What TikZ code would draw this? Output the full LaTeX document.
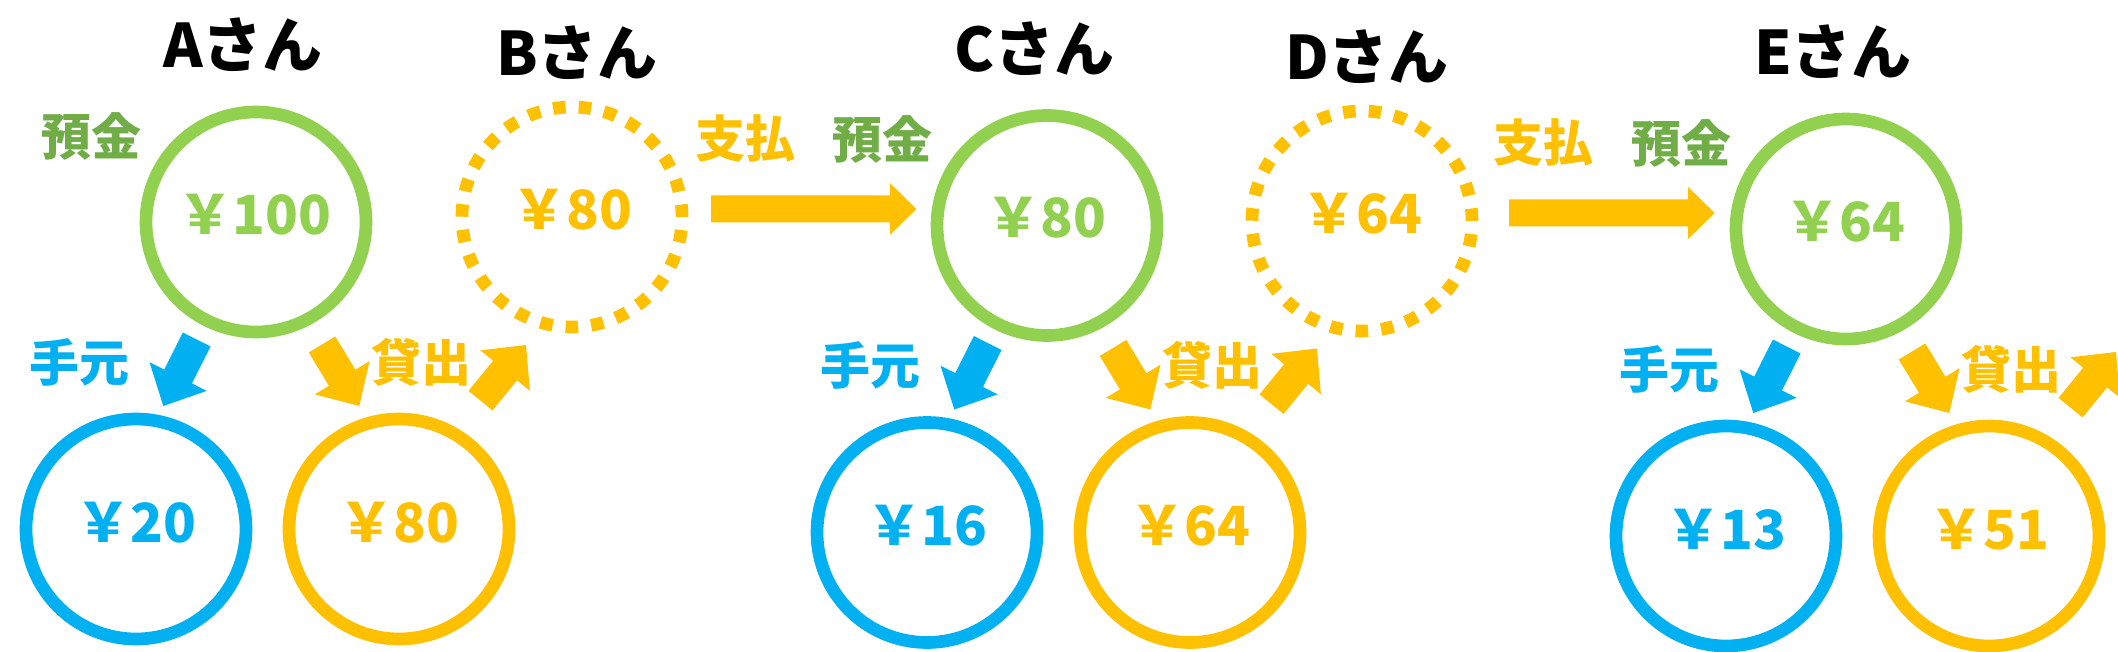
\documentclass[tikz,border=0pt]{standalone}
\usepackage{fontspec}
\newfontfamily\jp{Noto Sans CJK JP}
\usetikzlibrary{calc}
\definecolor{cgreen}{HTML}{92D050}
\definecolor{dgreen}{HTML}{70AD47}
\definecolor{cblue}{HTML}{00B0F0}
\definecolor{corange}{HTML}{FFC000}
\tikzset{
  ring/.style={circle, draw=#1, line width=12.7pt, minimum size=220pt, inner sep=0pt},
  dotring/.style={circle, draw=corange, line width=12.7pt, minimum size=220pt, inner sep=0pt, dash pattern=on 12.5pt off 13.1pt},
  amount/.style={text=#1, inner sep=0pt, font=\jp\bfseries\fontsize{54}{60}\selectfont},
  person/.style={text=black, inner sep=0pt, font=\jp\bfseries\fontsize{60}{66}\selectfont},
  tag/.style={text=#1, inner sep=0pt, font=\jp\bfseries\fontsize{50}{56}\selectfont},
}
% #1 tail, #2 tip, #3 half shaft, #4 half head, #5 head length, #6 colour
\newcommand\blockarrow[6]{%
  \path ($(#2)!#5!(#1)$) coordinate (ba-h);
  \fill[#6] ($(#1)!#3!90:(#2)$) -- ($(ba-h)!#3!90:(#2)$) -- ($(ba-h)!#4!90:(#2)$) -- (#2)
    -- ($(ba-h)!#4!-90:(#2)$) -- ($(ba-h)!#3!-90:(#2)$) -- ($(#1)!#3!-90:(#2)$) -- cycle;}
% #1 prefix, #2 dx, #3 dy, #4 deposit, #5 hand, #6 loan, #7 person
\newcommand\grp[7]{%
  \begin{scope}[shift={(#2,#3)}]
    \node[person] (#1name) at (243,44.7) {#7さん};
    \node[ring=cgreen] (#1dep) at (256,222) {};
    \node[amount=cgreen] (#1dept) at (255,214.5) {￥#4};
    \node[tag=dgreen] (#1yk) at (91,136) {預金};
    \node[ring=cblue] (#1hand) at (136,529) {};
    \node[amount=cblue] (#1handt) at (136.4,522.5) {￥#5};
    \node[ring=corange] (#1loan) at (399,529) {};
    \node[amount=corange] (#1loant) at (399,522.5) {￥#6};
    \node[tag=cblue] (#1tm) at (79,362) {手元};
    \node[tag=corange] (#1ks) at (421,362) {貸出};
    \coordinate (#1a1s) at (196.7,339.5); \coordinate (#1a1e) at (163.3,406);
    \coordinate (#1a2s) at (322,344.5);   \coordinate (#1a2e) at (359.3,406);
    \coordinate (#1a3s) at (480.5,400.7); \coordinate (#1a3e) at (526,345);
  \end{scope}
  \blockarrow{#1a1s}{#1a1e}{15.5pt}{32pt}{33pt}{cblue}
  \blockarrow{#1a2s}{#1a2e}{15.5pt}{32pt}{33pt}{corange}
  \blockarrow{#1a3s}{#1a3e}{15.5pt}{32pt}{33pt}{corange}
}
\begin{document}
\begin{tikzpicture}[x=1pt,y=-1pt]
  \useasboundingbox (0,0) rectangle (2118,652);
  \grp{A}{0}{0}{100}{20}{80}{A}
  \grp{C}{791}{3.5}{80}{16}{64}{C}
  \grp{E}{1590}{7}{64}{13}{51}{E}
  % B
  \node[person] (Bname) at (577,53) {Bさん};
  \node[dotring] (Bdot) at (572,217) {};
  \node[amount=corange] (Bdott) at (572.4,209.5) {￥80};
  \node[tag=corange] (Bpay) at (745,139) {支払};
  \coordinate (Bps) at (711,209); \coordinate (Bpe) at (916.4,209);
  \blockarrow{Bps}{Bpe}{13.5pt}{26pt}{26.5pt}{corange}
  % D
  \node[person] (Dname) at (1367,57) {Dさん};
  \node[dotring] (Ddot) at (1362,221) {};
  \node[amount=corange] (Ddott) at (1362.4,213.5) {￥64};
  \node[tag=corange] (Dpay) at (1543,143) {支払};
  \coordinate (Dps) at (1509,213); \coordinate (Dpe) at (1714.6,213);
  \blockarrow{Dps}{Dpe}{13.5pt}{26pt}{26.5pt}{corange}
\end{tikzpicture}
\end{document}
